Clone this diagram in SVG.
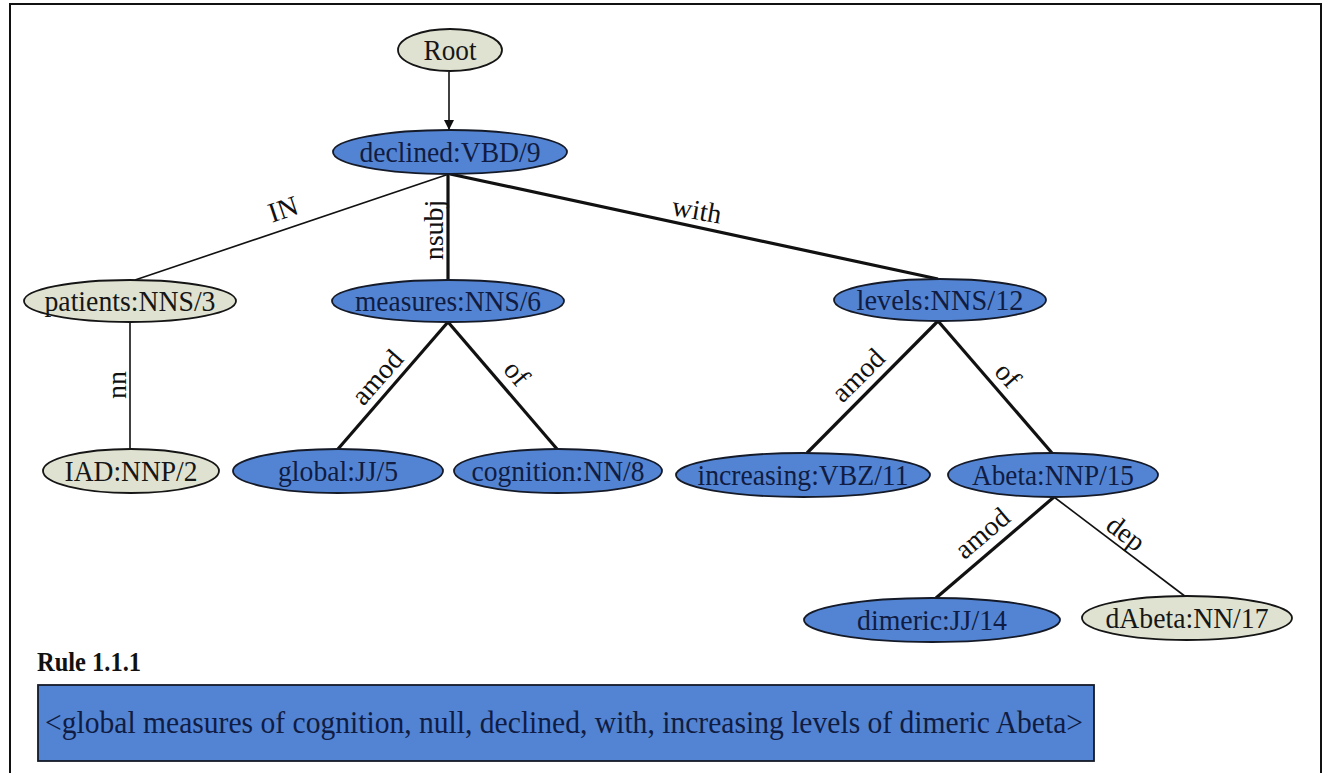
<svg xmlns="http://www.w3.org/2000/svg" width="1325" height="773" viewBox="0 0 1325 773">
  <style>
    .node-blue { fill: #5384d3; stroke: #151a28; stroke-width: 1.8; }
    .node-gray { fill: #dfe2d0; stroke: #151515; stroke-width: 1.8; }
    .serif { font-family: "Liberation Serif", "Tinos", "Times New Roman", Times, "DejaVu Serif", serif; }
    .lbl { font-size: 29px; text-anchor: middle; dominant-baseline: central; }
    .lbl-blue { fill: #101c42; }
    .lbl-gray { fill: #161616; }
    .edge-thick { stroke: #111; stroke-width: 3.2; fill: none; }
    .edge-thin { stroke: #111; stroke-width: 1.6; fill: none; }
    .elbl { font-size: 28px; fill: #111; text-anchor: middle; dominant-baseline: central; }
  </style>
  <defs>
    <marker id="arrow" viewBox="0 0 10 10" refX="10" refY="5" markerWidth="10" markerHeight="11" markerUnits="userSpaceOnUse" orient="auto">
      <path d="M0,0 L10,5 L0,10 z" fill="#111"/>
    </marker>
  </defs>

  <rect x="0" y="0" width="1325" height="773" fill="#ffffff"/>
  <!-- outer frame -->
  <path d="M10,773 V4 H1321 V773" fill="none" stroke="#111" stroke-width="2"/>

  <!-- connectors -->
  <g id="connectors">
    <line x1="449" y1="72" x2="449" y2="130" class="edge-thin" marker-end="url(#arrow)"/>
    <line x1="449" y1="174" x2="135" y2="280" class="edge-thin"/>
    <line x1="448" y1="174" x2="448" y2="280" class="edge-thick"/>
    <line x1="450" y1="174" x2="938" y2="279" class="edge-thick"/>
    <line x1="130" y1="322" x2="130" y2="449" class="edge-thin"/>
    <line x1="448" y1="322" x2="338" y2="449" class="edge-thick"/>
    <line x1="448" y1="322" x2="557" y2="449" class="edge-thick"/>
    <line x1="938" y1="321" x2="807" y2="453" class="edge-thick"/>
    <line x1="938" y1="321" x2="1052" y2="453" class="edge-thick"/>
    <line x1="1054" y1="497" x2="936" y2="598" class="edge-thick"/>
    <line x1="1054" y1="497" x2="1186" y2="597" class="edge-thin"/>

    <text class="serif elbl" transform="translate(283,209) rotate(-18.7)">IN</text>
    <text class="serif elbl" transform="translate(433,230) rotate(-90)">nsubj</text>
    <text class="serif elbl" transform="translate(697,210) rotate(10)">with</text>
    <text class="serif elbl" transform="translate(116,385) rotate(-90)">nn</text>
    <text class="serif elbl" transform="translate(377,377) rotate(-48.7)">amod</text>
    <text class="serif elbl" transform="translate(517,373) rotate(49.4)">of</text>
    <text class="serif elbl" transform="translate(858,375) rotate(-44.8)">amod</text>
    <text class="serif elbl" transform="translate(1008,375) rotate(48.3)">of</text>
    <text class="serif elbl" transform="translate(982,533) rotate(-40.3)">amod</text>
    <text class="serif elbl" transform="translate(1126,533) rotate(37.1)">dep</text>
  </g>

  <!-- nodes -->
  <g id="node-root">
    <ellipse cx="450" cy="50" rx="52" ry="21" class="node-gray"/>
    <text x="450" y="50" class="serif lbl lbl-gray" textLength="53" lengthAdjust="spacingAndGlyphs">Root</text>
  </g>
  <g id="node-declined">
    <ellipse cx="450" cy="152" rx="117" ry="22" class="node-blue"/>
    <text x="450" y="152" class="serif lbl lbl-blue" textLength="181" lengthAdjust="spacingAndGlyphs">declined:VBD/9</text>
  </g>
  <g id="node-patients">
    <ellipse cx="130" cy="301" rx="106" ry="21" class="node-gray"/>
    <text x="130" y="301" class="serif lbl lbl-gray" textLength="171" lengthAdjust="spacingAndGlyphs">patients:NNS/3</text>
  </g>
  <g id="node-measures">
    <ellipse cx="448" cy="301" rx="116" ry="21" class="node-blue"/>
    <text x="448" y="301" class="serif lbl lbl-blue" textLength="186" lengthAdjust="spacingAndGlyphs">measures:NNS/6</text>
  </g>
  <g id="node-levels">
    <ellipse cx="940" cy="300" rx="106" ry="21" class="node-blue"/>
    <text x="940" y="300" class="serif lbl lbl-blue" textLength="167" lengthAdjust="spacingAndGlyphs">levels:NNS/12</text>
  </g>
  <g id="node-iad">
    <ellipse cx="131" cy="471" rx="88" ry="22" class="node-gray"/>
    <text x="131" y="471" class="serif lbl lbl-gray" textLength="133" lengthAdjust="spacingAndGlyphs">IAD:NNP/2</text>
  </g>
  <g id="node-global">
    <ellipse cx="338" cy="471" rx="105" ry="22" class="node-blue"/>
    <text x="338" y="471" class="serif lbl lbl-blue" textLength="120" lengthAdjust="spacingAndGlyphs">global:JJ/5</text>
  </g>
  <g id="node-cognition">
    <ellipse cx="558" cy="471" rx="104" ry="22" class="node-blue"/>
    <text x="558" y="471" class="serif lbl lbl-blue" textLength="173" lengthAdjust="spacingAndGlyphs">cognition:NN/8</text>
  </g>
  <g id="node-increasing">
    <ellipse cx="803" cy="475" rx="127" ry="22" class="node-blue"/>
    <text x="803" y="475" class="serif lbl lbl-blue" textLength="211" lengthAdjust="spacingAndGlyphs">increasing:VBZ/11</text>
  </g>
  <g id="node-abeta">
    <ellipse cx="1053" cy="475" rx="105" ry="22" class="node-blue"/>
    <text x="1053" y="475" class="serif lbl lbl-blue" textLength="162" lengthAdjust="spacingAndGlyphs">Abeta:NNP/15</text>
  </g>
  <g id="node-dimeric">
    <ellipse cx="932" cy="620" rx="128" ry="22" class="node-blue"/>
    <text x="932" y="620" class="serif lbl lbl-blue" textLength="150" lengthAdjust="spacingAndGlyphs">dimeric:JJ/14</text>
  </g>
  <g id="node-dabeta">
    <ellipse cx="1187" cy="618" rx="105" ry="22" class="node-gray"/>
    <text x="1187" y="618" class="serif lbl lbl-gray" textLength="163" lengthAdjust="spacingAndGlyphs">dAbeta:NN/17</text>
  </g>

  <!-- rule caption and extracted tuple -->
  <g id="rule">
    <text x="37" y="662" class="serif" font-weight="bold" font-size="27" fill="#111" dominant-baseline="central" textLength="104" lengthAdjust="spacingAndGlyphs">Rule 1.1.1</text>
    <rect x="38" y="685" width="1056" height="76" fill="#5384d3" stroke="#151a28" stroke-width="1.8"/>
    <text x="45" y="722" class="serif" font-size="31" fill="#101c42" dominant-baseline="central" textLength="1038" lengthAdjust="spacingAndGlyphs">&lt;global measures of cognition, null, declined, with, increasing levels of dimeric Abeta&gt;</text>
  </g>
</svg>
